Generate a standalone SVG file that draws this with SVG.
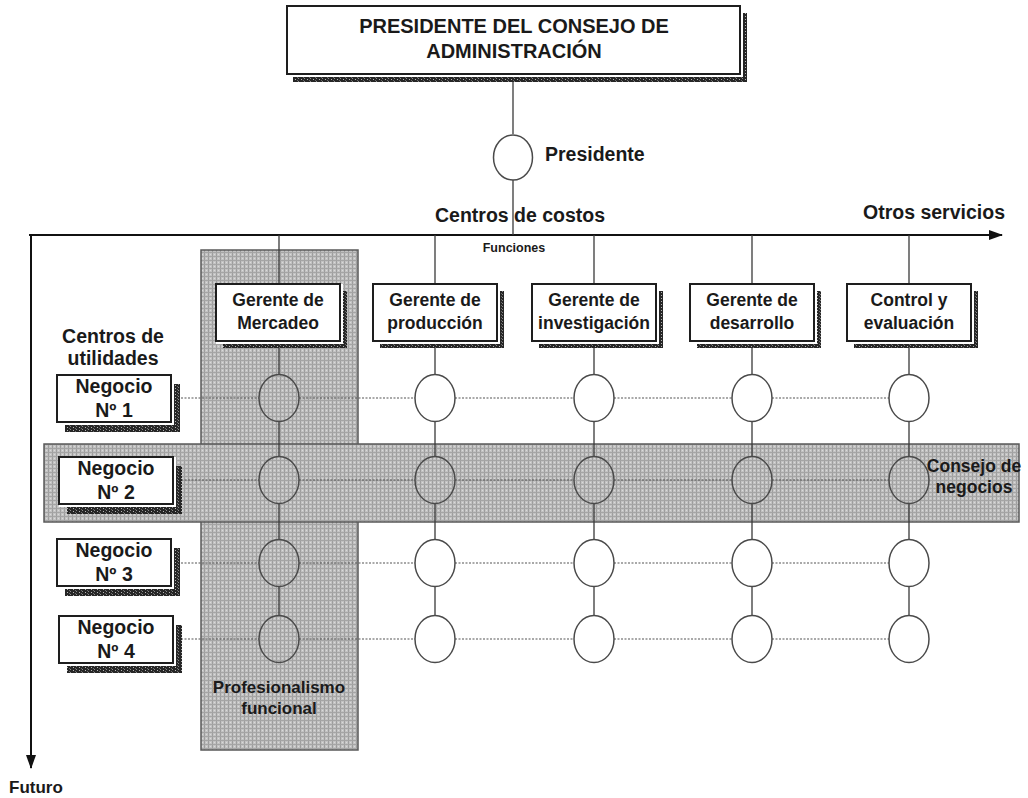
<svg xmlns="http://www.w3.org/2000/svg" width="1028" height="798" viewBox="0 0 1028 798">
  <defs>
    <style>
      text { font-family: "Liberation Sans", Arial, sans-serif; font-weight: bold; fill: #1a1a1a; }
      .c { text-anchor: middle; }
      .box { fill: #fff; stroke: #1e1e1e; stroke-width: 2; }
      .gap { fill: #fff; }
      .shadow { fill: url(#grit); }
      .node { fill: none; stroke: #4a4a4a; stroke-width: 1.5; }
      .solid { stroke: #3a3a3a; stroke-width: 1.3; fill: none; }
      .dots { stroke: #555; stroke-width: 1.2; stroke-dasharray: 2 1.5; fill: none; }
      .axis { stroke: #111; stroke-width: 2; fill: none; }
      .zone { fill: url(#halftone); stroke: #5a5a5a; stroke-width: 1.5; }
      .t17 { font-size: 17.5px; }
      .t19 { font-size: 19.5px; }
    </style>
    <pattern id="halftone" width="4" height="4" patternUnits="userSpaceOnUse">
      <rect width="4" height="4" fill="#c2c2c2"/>
      <rect x="0" y="0" width="1" height="4" fill="#9e9e9e"/>
      <rect x="0" y="0" width="4" height="1" fill="#a5a5a5"/>
      <rect x="2" y="2" width="1" height="1" fill="#dadada"/>
    </pattern>
    <pattern id="grit" width="6" height="3" patternUnits="userSpaceOnUse">
      <rect width="6" height="3" fill="#262626"/>
      <rect x="1" y="1" width="1" height="1" fill="#b5b5b5"/>
      <rect x="4" y="0" width="1" height="1" fill="#8a8a8a"/>
      <rect x="3" y="2" width="1" height="1" fill="#6a6a6a"/>
    </pattern>
    <marker id="tip" viewBox="0 0 14 10" refX="13" refY="5" markerWidth="14" markerHeight="10" markerUnits="userSpaceOnUse" orient="auto">
      <path d="M0,0 L14,5 L0,10 Z" fill="#111"/>
    </marker>
  </defs>

  <rect width="1028" height="798" fill="#fff"/>

  <!-- shaded zones: functional column and business council band -->
  <g id="zones">
    <rect id="profesionalismo-funcional" class="zone" x="201" y="250" width="157" height="500"/>
    <rect id="consejo-de-negocios" class="zone" x="44" y="444" width="975" height="78"/>
  </g>

  <!-- axes -->
  <g id="axes">
    <line class="axis" x1="29" y1="235" x2="1002" y2="235" marker-end="url(#tip)"/>
    <line class="axis" x1="31" y1="235" x2="31" y2="768" marker-end="url(#tip)"/>
  </g>

  <!-- connectors -->
  <g id="connectors">
    <!-- board chair to president to cost axis -->
    <line class="solid" x1="513" y1="82" x2="513" y2="134"/>
    <line class="solid" x1="513" y1="180" x2="513" y2="235"/>
    <!-- cost axis down to managers -->
    <line class="solid" x1="279" y1="235" x2="279" y2="284"/>
    <line class="solid" x1="435" y1="235" x2="435" y2="284"/>
    <line class="solid" x1="594" y1="235" x2="594" y2="284"/>
    <line class="solid" x1="752" y1="235" x2="752" y2="284"/>
    <line class="solid" x1="909" y1="235" x2="909" y2="284"/>
    <!-- manager columns through the matrix -->
    <g>
      <path class="solid" d="M279,341 V374.5 M279,421.5 V456.5 M279,503.5 V539.5 M279,586.5 V615.5"/>
      <path class="solid" d="M435,341 V374.5 M435,421.5 V456.5 M435,503.5 V539.5 M435,586.5 V615.5"/>
      <path class="solid" d="M594,341 V374.5 M594,421.5 V456.5 M594,503.5 V539.5 M594,586.5 V615.5"/>
      <path class="solid" d="M752,341 V374.5 M752,421.5 V456.5 M752,503.5 V539.5 M752,586.5 V615.5"/>
      <path class="solid" d="M909,341 V374.5 M909,421.5 V456.5 M909,503.5 V539.5 M909,586.5 V615.5"/>
    </g>
    <!-- business rows across the matrix -->
    <g>
      <path class="dots" d="M181,398 H259 M299,398 H415 M455,398 H574 M614,398 H732 M772,398 H889"/>
      <path class="dots" d="M181,480 H259 M299,480 H415 M455,480 H574 M614,480 H732 M772,480 H889"/>
      <path class="dots" d="M181,563 H259 M299,563 H415 M455,563 H574 M614,563 H732 M772,563 H889"/>
      <path class="dots" d="M181,639 H259 M299,639 H415 M455,639 H574 M614,639 H732 M772,639 H889"/>
    </g>
  </g>

  <!-- board chair -->
  <g id="presidente-consejo">
    <rect class="shadow" x="293" y="13" width="454" height="69"/>
    <rect class="gap" x="287" y="6" width="456" height="71"/>
    <rect class="box" x="287" y="6" width="453" height="68"/>
    <text class="c" x="514" y="33" style="font-size:20px">PRESIDENTE DEL CONSEJO DE</text>
    <text class="c" x="514" y="58" style="font-size:20px">ADMINISTRACIÓN</text>
  </g>

  <g id="presidente">
    <ellipse class="node" cx="513" cy="157.5" rx="19.5" ry="22.5"/>
    <text class="t19" x="545" y="161">Presidente</text>
  </g>

  <!-- axis labels -->
  <g id="labels">
    <text class="t19" x="435" y="222">Centros de costos</text>
    <text class="t19" x="863" y="219">Otros servicios</text>
    <text class="c" x="514" y="252" style="font-size:12.5px">Funciones</text>
    <text class="c t19" x="113" y="343">Centros de</text>
    <text class="c t19" x="113" y="365">utilidades</text>
    <text style="font-size:17px" x="9" y="793">Futuro</text>
    <text class="c" x="279" y="693" style="font-size:17px">Profesionalismo</text>
    <text class="c" x="279" y="714" style="font-size:17px">funcional</text>
    <text class="c" x="974" y="472" style="font-size:17.5px">Consejo de</text>
    <text class="c" x="974" y="493" style="font-size:17.5px">negocios</text>
  </g>

  <!-- functional managers -->
  <g id="gerente-mercadeo">
    <rect class="shadow" x="223" y="291" width="124" height="57"/>
    <rect class="gap" x="216" y="284" width="127" height="60"/>
    <rect class="box" x="216" y="284" width="124" height="57"/>
    <text class="c t17" x="278" y="306">Gerente de</text>
    <text class="c t17" x="278" y="329">Mercadeo</text>
  </g>
  <g id="gerente-produccion">
    <rect class="shadow" x="380" y="291" width="124" height="57"/>
    <rect class="gap" x="373" y="284" width="127" height="60"/>
    <rect class="box" x="373" y="284" width="124" height="57"/>
    <text class="c t17" x="435" y="306">Gerente de</text>
    <text class="c t17" x="435" y="329">producción</text>
  </g>
  <g id="gerente-investigacion">
    <rect class="shadow" x="539" y="291" width="124" height="57"/>
    <rect class="gap" x="532" y="284" width="127" height="60"/>
    <rect class="box" x="532" y="284" width="124" height="57"/>
    <text class="c t17" x="594" y="306">Gerente de</text>
    <text class="c t17" x="594" y="329">investigación</text>
  </g>
  <g id="gerente-desarrollo">
    <rect class="shadow" x="697" y="291" width="124" height="57"/>
    <rect class="gap" x="690" y="284" width="127" height="60"/>
    <rect class="box" x="690" y="284" width="124" height="57"/>
    <text class="c t17" x="752" y="306">Gerente de</text>
    <text class="c t17" x="752" y="329">desarrollo</text>
  </g>
  <g id="control-evaluacion">
    <rect class="shadow" x="854" y="291" width="124" height="57"/>
    <rect class="gap" x="847" y="284" width="127" height="60"/>
    <rect class="box" x="847" y="284" width="124" height="57"/>
    <text class="c t17" x="909" y="306">Control y</text>
    <text class="c t17" x="909" y="329">evaluación</text>
  </g>

  <!-- businesses -->
  <g id="negocio-1">
    <rect class="shadow" x="65" y="384" width="115" height="48"/>
    <rect class="gap" x="57" y="375" width="117" height="50"/>
    <rect class="box" x="57" y="375" width="114" height="47"/>
    <text class="c t19" x="114" y="393">Negocio</text>
    <text class="c t19" x="114" y="417">Nº 1</text>
  </g>
  <g id="negocio-2">
    <rect class="shadow" x="67" y="466" width="115" height="48"/>
    <rect class="gap" x="59" y="457" width="117" height="50"/>
    <rect class="box" x="59" y="457" width="114" height="47"/>
    <text class="c t19" x="116" y="475">Negocio</text>
    <text class="c t19" x="116" y="499">Nº 2</text>
  </g>
  <g id="negocio-3">
    <rect class="shadow" x="65" y="548" width="115" height="48"/>
    <rect class="gap" x="57" y="539" width="117" height="50"/>
    <rect class="box" x="57" y="539" width="114" height="47"/>
    <text class="c t19" x="114" y="557">Negocio</text>
    <text class="c t19" x="114" y="581">Nº 3</text>
  </g>
  <g id="negocio-4">
    <rect class="shadow" x="67" y="625" width="115" height="48"/>
    <rect class="gap" x="59" y="616" width="117" height="50"/>
    <rect class="box" x="59" y="616" width="114" height="47"/>
    <text class="c t19" x="116" y="634">Negocio</text>
    <text class="c t19" x="116" y="658">Nº 4</text>
  </g>

  <!-- matrix intersections -->
  <g id="nodos">
    <g id="fila-1">
      <ellipse class="node" cx="279" cy="398" rx="20" ry="23.5"/>
      <ellipse class="node" cx="435" cy="398" rx="20" ry="23.5"/>
      <ellipse class="node" cx="594" cy="398" rx="20" ry="23.5"/>
      <ellipse class="node" cx="752" cy="398" rx="20" ry="23.5"/>
      <ellipse class="node" cx="909" cy="398" rx="20" ry="23.5"/>
    </g>
    <g id="fila-2">
      <ellipse class="node" cx="279" cy="480" rx="20" ry="23.5"/>
      <ellipse class="node" cx="435" cy="480" rx="20" ry="23.5"/>
      <ellipse class="node" cx="594" cy="480" rx="20" ry="23.5"/>
      <ellipse class="node" cx="752" cy="480" rx="20" ry="23.5"/>
      <ellipse class="node" cx="909" cy="480" rx="20" ry="23.5"/>
    </g>
    <g id="fila-3">
      <ellipse class="node" cx="279" cy="563" rx="20" ry="23.5"/>
      <ellipse class="node" cx="435" cy="563" rx="20" ry="23.5"/>
      <ellipse class="node" cx="594" cy="563" rx="20" ry="23.5"/>
      <ellipse class="node" cx="752" cy="563" rx="20" ry="23.5"/>
      <ellipse class="node" cx="909" cy="563" rx="20" ry="23.5"/>
    </g>
    <g id="fila-4">
      <ellipse class="node" cx="279" cy="639" rx="20" ry="23.5"/>
      <ellipse class="node" cx="435" cy="639" rx="20" ry="23.5"/>
      <ellipse class="node" cx="594" cy="639" rx="20" ry="23.5"/>
      <ellipse class="node" cx="752" cy="639" rx="20" ry="23.5"/>
      <ellipse class="node" cx="909" cy="639" rx="20" ry="23.5"/>
    </g>
  </g>
</svg>
